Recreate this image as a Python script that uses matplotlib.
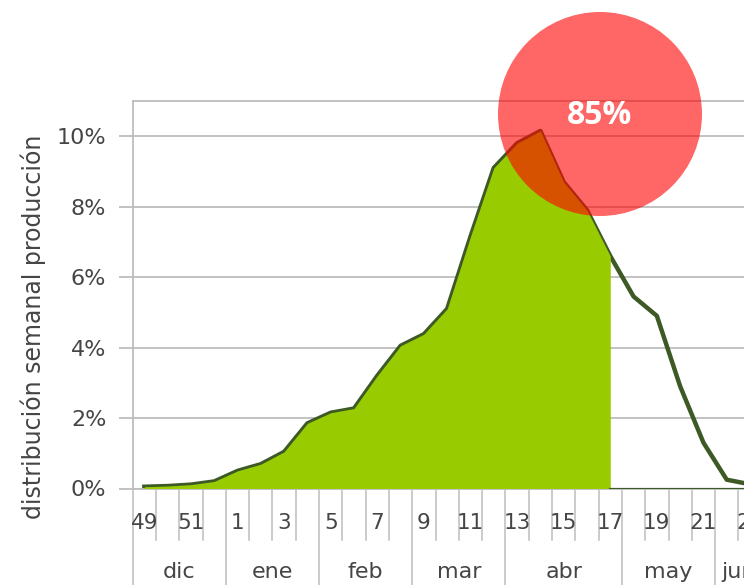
import matplotlib
matplotlib.use('Agg')
import matplotlib.pyplot as plt
from matplotlib.patches import Ellipse
import matplotlib.transforms as mtransforms

# weekly share of production (%), weeks 49..23
weeks = [49, 50, 51, 52, 1, 2, 3, 4, 5, 6, 7, 8, 9, 10, 11, 12, 13,
         14, 15, 16, 17, 18, 19, 20, 21, 22, 23]
share = [0.05, 0.07, 0.11, 0.2, 0.5, 0.69, 1.04, 1.85, 2.15, 2.27, 3.2,
         4.05, 4.38, 5.1, 7.15, 9.1, 9.8, 10.15, 8.7, 7.9, 6.6, 5.45,
         4.9, 2.9, 1.3, 0.25, 0.12]
last_filled_week = 17

months = ['dic', 'ene', 'feb', 'mar', 'abr', 'may', 'jun']
month_first_week = [49, 1, 5, 9, 13, 18, 22]

y_ticks = [0, 2, 4, 6, 8, 10]
ylabel = 'distribución semanal producción'
badge = '85%'

text_col = '#454545'
grid_col = '#bdbdbd'
line_col = '#3d5a26'
fill_col = '#99cc00'

fig = plt.figure(figsize=(7.44, 5.85), dpi=100)
# axes runs past the right edge, the reference is cropped there
ax = fig.add_axes([132.7 / 744, 96.5 / 585, 629 / 744, 387.5 / 585])

x = list(range(len(weeks)))
n_fill = weeks.index(last_filled_week) + 1

ax.plot(x, share, color=line_col, lw=3.2, zorder=2, solid_joinstyle='round')
ax.fill_between(x[:n_fill], 0, share[:n_fill], color=fill_col, lw=0, zorder=3)
ax.plot(x[n_fill - 1:], [0] * (len(x) - n_fill + 1), color=line_col, lw=1.6, zorder=3)

ax.set_xlim(-0.5, len(weeks) - 0.5)
ax.set_ylim(0, 11)
ax.set_yticks(y_ticks)
ax.set_yticklabels([f'{v}%' for v in y_ticks])
ax.set_xticks([])
ax.yaxis.grid(True, color=grid_col, lw=1.3, zorder=0)
ax.set_axisbelow(True)
ax.tick_params(axis='y', length=10, width=1.3, color=grid_col, pad=9,
               labelsize=16, labelcolor=text_col)
for s in ['left', 'top', 'bottom', 'right']:
    ax.spines[s].set_color(grid_col)
    ax.spines[s].set_linewidth(1.3)

# week / month category axis below the plot
trans = mtransforms.blended_transform_factory(ax.transData, ax.transAxes)
month_bounds = [weeks.index(w) - 0.5 for w in month_first_week] + [len(weeks) - 0.5]
for k in range(len(weeks) + 1):
    xb = k - 0.5
    y_end = -0.27 if xb in month_bounds else -0.133
    ax.plot([xb, xb], [0, y_end], color=grid_col, lw=1.1, transform=trans,
            clip_on=False)
for i, w in enumerate(weeks):
    if i % 2 == 0:
        ax.text(i, -0.09, str(w), transform=trans, ha='center', va='center',
                fontsize=15.5, color=text_col)
for i, m in enumerate(months):
    xc = (month_bounds[i] + month_bounds[i + 1]) / 2
    ax.text(xc, -0.215, m, transform=trans, ha='center', va='center',
            fontsize=16, color=text_col)

fig.text(33 / 744, 1 - 327 / 585, ylabel, rotation=90, ha='center', va='center',
         fontsize=17, color=text_col)

# red badge
fig.add_artist(Ellipse((600 / 744, 1 - 114 / 585), 204 / 744, 204 / 585,
                       transform=fig.transFigure, color='red', alpha=0.6, lw=0))
fig.text(600 / 744, 1 - 116 / 585, badge, ha='center', va='center', fontsize=23,
         fontweight='bold', color='white', family='Open Sans')

fig.savefig('out.png', dpi=100)
